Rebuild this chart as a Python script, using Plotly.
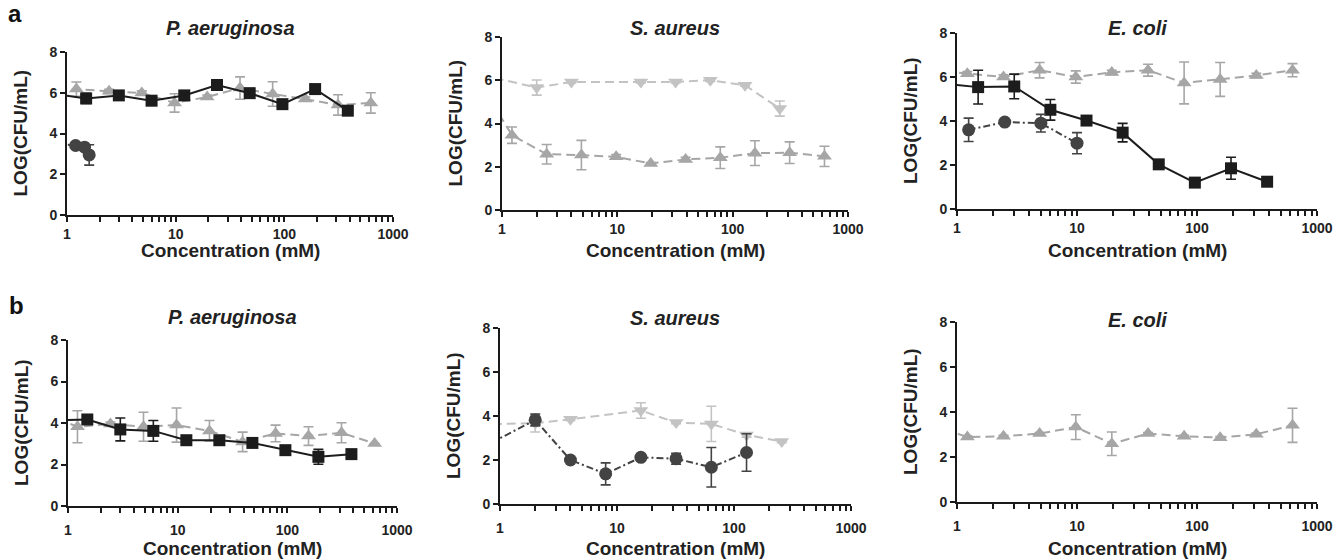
import plotly.graph_objects as go

W, H = 1337, 560

# ---------------- data ----------------
# concentration series (mM); first entry of each lies left of the axis (clipped lead-in)
conc_tri = [0.61, 1.22, 2.44, 4.88, 9.77, 19.5, 39.1, 78.1, 156, 312, 625]
conc_sq = [0.75, 1.5, 3, 6, 12, 24, 48, 96, 192, 384]
conc_down = [0.5, 2, 4, 16, 32, 64, 128, 256]
conc_circ_a1 = [0.6, 1.2, 1.45, 1.6]
conc_circ_a3 = [1.25, 2.5, 5, 10]
conc_circ_b2 = [0.5, 2, 4, 8, 16, 32, 64, 128]

a1_tri = [6.05, 6.18, 6.07, 5.99, 5.5, 5.79, 6.23, 5.94, 5.69, 5.4, 5.5]
a1_tri_err = [0, 0.35, 0.1, 0.1, 0.45, 0.1, 0.55, 0.6, 0.1, 0.5, 0.5]
a1_sq = [5.95, 5.72, 5.87, 5.61, 5.87, 6.38, 5.98, 5.44, 6.18, 5.12]
a1_sq_err = [0, 0.25, 0.1, 0.1, 0.1, 0.1, 0.1, 0.1, 0.1, 0.1]
a1_circ = [3.55, 3.41, 3.33, 2.95]
a1_circ_err = [0, 0.05, 0.1, 0.5]

a2_down = [6.4, 5.66, 5.92, 5.92, 5.92, 6.0, 5.77, 4.69]
a2_down_err = [0, 0.35, 0.05, 0.05, 0.05, 0.05, 0.05, 0.35]
a2_tri = [6.1, 3.46, 2.58, 2.54, 2.46, 2.15, 2.34, 2.42, 2.63, 2.65, 2.48]
a2_tri_err = [0, 0.38, 0.45, 0.68, 0.1, 0.05, 0.1, 0.5, 0.57, 0.5, 0.47]

a3_tri = [6.32, 6.15, 6.0, 6.31, 6.0, 6.21, 6.31, 5.73, 5.89, 6.07, 6.31]
a3_tri_err = [0, 0.1, 0.1, 0.35, 0.28, 0.1, 0.27, 0.95, 0.77, 0.1, 0.3]
a3_sq = [5.71, 5.54, 5.57, 4.51, 4.02, 3.47, 2.03, 1.2, 1.85, 1.24]
a3_sq_err = [0, 0.77, 0.56, 0.47, 0.1, 0.42, 0.1, 0.1, 0.5, 0.1]
a3_circ = [3.6, 3.95, 3.9, 2.99]
a3_circ_err = [0.53, 0.05, 0.4, 0.48]

b1_sq = [4.12, 4.17, 3.69, 3.62, 3.17, 3.17, 3.04, 2.69, 2.37, 2.5]
b1_sq_err = [0, 0.1, 0.55, 0.5, 0.1, 0.1, 0.1, 0.1, 0.36, 0.1]
b1_tri = [4.45, 3.82, 3.95, 3.82, 3.9, 3.62, 3.09, 3.5, 3.37, 3.53, 3.01]
b1_tri_err = [0, 0.77, 0.1, 0.7, 0.82, 0.5, 0.47, 0.4, 0.45, 0.48, 0]

b2_down = [3.61, 3.67, 3.85, 4.25, 3.7, 3.64, 3.14, 2.84]
b2_down_err = [0, 0.4, 0.05, 0.35, 0.05, 0.8, 0.1, 0.05]
b2_circ = [2.16, 3.82, 2.0, 1.37, 2.12, 2.06, 1.67, 2.34]
b2_circ_err = [0, 0.27, 0.05, 0.5, 0.05, 0.25, 0.9, 0.85]

b3_tri = [3.41, 2.89, 2.92, 3.04, 3.33, 2.59, 3.04, 2.92, 2.86, 3.01, 3.41]
b3_tri_err = [0, 0.05, 0.05, 0.05, 0.55, 0.52, 0.05, 0.05, 0.05, 0.05, 0.76]

titles = ["P. aeruginosa", "S. aureus", "E. coli", "P. aeruginosa", "S. aureus", "E. coli"]
x_ticks = [1, 10, 100, 1000]
y_ticks = [0, 2, 4, 6, 8]
x_title = "Concentration (mM)"
y_title = "LOG(CFU/mL)"

# ---------------- styles ----------------
C_SQ = "#1c1c1c"
C_CIRC = "#434343"
C_TRI = "#a6a6a6"
C_DOWN = "#c3c3c3"
FONT = "Liberation Sans, Arial, sans-serif"
TXT = "#222222"

styles = {
    "sq": dict(color=C_SQ, symbol="square", dash="solid", size=12),
    "circ": dict(color=C_CIRC, symbol="circle", dash="7px,3px,2px,3px", size=13),
    "tri": dict(color=C_TRI, symbol="triangle-up", dash="9px,5px", size=13),
    "down": dict(color=C_DOWN, symbol="triangle-down", dash="9px,5px", size=13),
}

# panel boxes in pixels: (left, right, top, bottom)
boxes = [
    (67, 393, 52, 215),
    (502, 848, 37, 210),
    (957, 1317, 33, 209),
    (68, 397, 340, 506),
    (500, 851, 328, 504),
    (957, 1317, 322, 502),
]
title_ys = [28, 28, 28, 317, 318, 320]
xlabel_ys = [251, 251, 251, 548, 548, 548]
xtick_standoff = [0, 0, 0, 5, 5, 5]

panels = [
    [("tri", conc_tri, a1_tri, a1_tri_err), ("sq", conc_sq, a1_sq, a1_sq_err),
     ("circ", conc_circ_a1, a1_circ, a1_circ_err)],
    [("down", conc_down, a2_down, a2_down_err), ("tri", conc_tri, a2_tri, a2_tri_err)],
    [("tri", conc_tri, a3_tri, a3_tri_err), ("sq", conc_sq, a3_sq, a3_sq_err),
     ("circ", conc_circ_a3, a3_circ, a3_circ_err)],
    [("tri", conc_tri, b1_tri, b1_tri_err), ("sq", conc_sq, b1_sq, b1_sq_err)],
    [("down", conc_down, b2_down, b2_down_err), ("circ", conc_circ_b2, b2_circ, b2_circ_err)],
    [("tri", conc_tri, b3_tri, b3_tri_err)],
]

fig = go.Figure()
layout = dict(
    template="none",
    width=W, height=H, margin=dict(l=0, r=0, t=0, b=0, pad=0, autoexpand=False),
    paper_bgcolor="white", plot_bgcolor="white", showlegend=False,
    font=dict(family=FONT, color=TXT),
)
annotations = []

minor_vals = [m * 10 ** e for e in range(3) for m in range(2, 10)]
tick_font = dict(family=FONT, size=14, color=TXT, weight="bold")

for i, (box, series) in enumerate(zip(boxes, panels)):
    n = i + 1
    l, r, t, b = box
    xd = [l / W, r / W]
    yd = [1 - b / H, 1 - t / H]
    xa = "x" if n == 1 else f"x{n}"
    ya = "y" if n == 1 else f"y{n}"
    axis_common = dict(
        showline=True, linecolor="#1a1a1a", linewidth=2, ticks="outside",
        ticklen=5, tickwidth=2, tickcolor="#1a1a1a", showgrid=False, zeroline=False,
        automargin=False, mirror=False, tickfont=tick_font,
    )
    layout["xaxis" if n == 1 else f"xaxis{n}"] = dict(
        domain=xd, anchor=ya, type="log", range=[0, 3],
        tickmode="array", tickvals=x_ticks, ticktext=[str(v) for v in x_ticks],
        ticklabelposition="outside", ticklabelstandoff=xtick_standoff[i],
        minor=dict(tickvals=minor_vals, ticks="outside", ticklen=5, tickwidth=2,
                   tickcolor="#1a1a1a", showgrid=False),
        **axis_common,
    )
    layout["yaxis" if n == 1 else f"yaxis{n}"] = dict(
        domain=yd, anchor=xa, range=[0, 8], tickmode="array", tickvals=y_ticks,
        ticktext=[str(v) for v in y_ticks], **axis_common,
    )
    for key, xs, ys, es in series:
        s = styles[key]
        fig.add_trace(go.Scatter(
            x=xs, y=ys, xaxis=xa, yaxis=ya, mode="lines+markers",
            line=dict(color=s["color"], width=2, dash=s["dash"]),
            marker=dict(color=s["color"], symbol=s["symbol"], size=s["size"],
                        line=dict(width=0)),
            error_y=dict(type="data", array=es, visible=True, color=s["color"],
                         thickness=1.6, width=5),
            cliponaxis=True,
        ))
    cx = (l + r) / 2
    cy = (t + b) / 2
    # subplot title
    annotations.append(dict(
        text=f"<b><i>{titles[i]}</i></b>", xref="paper", yref="paper",
        x=cx / W, y=1 - title_ys[i] / H, xanchor="center", yanchor="middle",
        showarrow=False, font=dict(family=FONT, size=20, color=TXT),
    ))
    # x axis title
    annotations.append(dict(
        text=f"<b>{x_title}</b>", xref="paper", yref="paper",
        x=cx / W, y=1 - xlabel_ys[i] / H, xanchor="center", yanchor="middle",
        showarrow=False, font=dict(family=FONT, size=19, color=TXT),
    ))
    # y axis title
    annotations.append(dict(
        text=f"<b>{y_title}</b>", xref="paper", yref="paper",
        x=(l - 47) / W, y=1 - cy / H, xanchor="center", yanchor="middle",
        textangle=-90, showarrow=False, font=dict(family=FONT, size=19, color=TXT),
    ))

for letter, px, py in [("a", 15, 13), ("b", 16, 306)]:
    annotations.append(dict(
        text=f"<b>{letter}</b>", xref="paper", yref="paper",
        x=px / W, y=1 - py / H, xanchor="center", yanchor="middle",
        showarrow=False, font=dict(family=FONT, size=24, color="#111111"),
    ))

layout["annotations"] = annotations
fig.update_layout(**layout)
fig.write_html("out.html", config={"displayModeBar": False},
               post_script="document.body.style.margin='0';")
